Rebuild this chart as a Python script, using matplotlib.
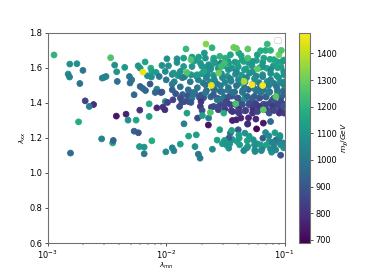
import numpy as np
import matplotlib
matplotlib.use('Agg')
import matplotlib.pyplot as plt

# points in the dense corner, mostly covered by the ones drawn over them
fill_log_mn = [
    -1.680, -1.621, -1.560, -1.512, -1.445, -1.392, -1.325, -1.276, -1.208, -1.150, -1.097, -1.030,
    -1.652, -1.600, -1.534, -1.483, -1.415, -1.364, -1.296, -1.240, -1.186, -1.118, -1.068, -1.006,
    -1.690, -1.630, -1.572, -1.503, -1.452, -1.385, -1.335, -1.268, -1.216, -1.149, -1.089, -1.037,
    -1.660, -1.590, -1.541, -1.475, -1.422, -1.355, -1.305, -1.238, -1.178, -1.127, -1.060, -1.010,
    -1.684, -1.624, -1.565, -1.511, -1.446, -1.393, -1.328, -1.274, -1.209, -1.157, -1.090, -1.031,
    -1.540, -1.482, -1.416, -1.363, -1.298, -1.245, -1.179, -1.120, -1.067, -1.003,
    -1.560, -1.505, -1.452, -1.387, -1.334, -1.268, -1.215, -1.150, -1.096, -1.035,
    -1.480, -1.420, -1.358, -1.303, -1.239, -1.185, -1.124, -1.062, -1.008,
    -1.950, -1.900, -1.846, -1.790, -1.744, -1.700, -1.920, -1.862, -1.806, -1.758, -1.705,
    -1.880, -1.820, -1.770, -1.720, -1.950, -1.760, -1.700, -1.650, -1.600,
    -1.130, -1.062, -1.012, -1.250, -1.190, -1.110, -1.040, -1.300, -1.380, -1.440,
]
fill_lam_xx = [
    1.600, 1.604, 1.596, 1.611, 1.598, 1.606, 1.594, 1.612, 1.601, 1.597, 1.610, 1.603,
    1.561, 1.556, 1.566, 1.552, 1.563, 1.558, 1.569, 1.553, 1.560, 1.567, 1.555, 1.561,
    1.514, 1.520, 1.509, 1.516, 1.523, 1.511, 1.518, 1.507, 1.515, 1.521, 1.510, 1.517,
    1.469, 1.474, 1.465, 1.472, 1.462, 1.470, 1.476, 1.466, 1.473, 1.463, 1.471, 1.468,
    1.429, 1.434, 1.425, 1.431, 1.438, 1.426, 1.433, 1.423, 1.430, 1.436, 1.427, 1.432,
    1.394, 1.398, 1.391, 1.400, 1.388, 1.396, 1.392, 1.401, 1.395, 1.390,
    1.360, 1.364, 1.356, 1.366, 1.354, 1.362, 1.368, 1.358, 1.365, 1.361,
    1.640, 1.632, 1.645, 1.628, 1.642, 1.630, 1.648, 1.634, 1.644,
    1.562, 1.555, 1.548, 1.560, 1.552, 1.566, 1.452, 1.447, 1.462, 1.455, 1.444,
    1.427, 1.439, 1.448, 1.431, 1.506, 1.640, 1.610, 1.592, 1.640,
    1.180, 1.192, 1.171, 1.122, 1.140, 1.118, 1.205, 1.210, 1.160, 1.190,
]
fill_m_chi = [
    1110, 1130, 1090, 1140, 1100, 1120, 1150, 1110, 1130, 1160, 1120, 1140,
    1070, 1100, 1060, 1110, 1080, 1120, 1090, 1060, 1110, 1080, 1120, 1090,
    1020, 1060, 1000, 1050, 1030, 1070, 1010, 1060, 1040, 1080, 1030, 1060,
    960, 1000, 940, 1010, 970, 1020, 950, 990, 1010, 960, 1000, 970,
    900, 930, 880, 950, 910, 960, 890, 940, 920, 950, 900, 930,
    860, 890, 850, 900, 870, 840, 880, 860, 900, 870,
    830, 810, 860, 800, 840, 790, 850, 820, 860, 810,
    1130, 1110, 1150, 1120, 1140, 1100, 1160, 1130, 1150,
    1060, 1090, 1040, 1100, 1070, 1110, 900, 940, 970, 920, 880,
    870, 900, 930, 890, 1000, 1120, 1100, 1110, 1140,
    1100, 1070, 1060, 1080, 1040, 1090, 1100, 1120, 1130, 1110,
]

# log10(lambda_mn)
log_mn = [
    -2.947, -2.814, -2.754, -2.703, -2.828, -2.816, -2.729, -2.684, -2.613, -2.650,
    -2.740, -2.469, -2.435, -2.418, -2.350, -2.540, -2.525, -2.508, -2.413, -2.311,
    -2.291, -2.305, -2.220, -2.197, -2.175, -2.271, -2.136, -2.237, -2.220, -2.178,
    -2.130, -2.121, -2.158, -2.125, -2.085, -2.059, -2.079, -2.093, -2.045, -2.144,
    -2.079, -2.223, -2.339, -2.421, -2.322, -2.254, -2.144, -2.808, -2.545, -2.452,
    -2.447, -2.271, -2.235, -2.121, -2.226, -2.186, -2.186, -2.003, -1.949, -1.935,
    -1.881, -1.850, -1.644, -1.811, -1.746, -1.757, -1.729, -1.714, -1.610, -1.570,
    -1.548, -1.472, -1.458, -1.392, -1.447, -1.387, -1.336, -1.508, -1.525, -1.492,
    -1.472, -1.500, -1.464, -1.401, -1.384, -1.316, -1.265, -1.345, -1.322, -1.311,
    -1.254, -1.231, -1.203, -1.252, -1.197, -1.153, -1.119, -1.076, -1.133, -1.161,
    -1.184, -1.237, -1.180, -1.119, -1.314, -1.082, -1.040, -1.076, -1.104, -1.048,
    -1.091, -1.034, -1.008, -1.034, -2.036, -2.008, -1.943, -1.989, -2.028, -2.011,
    -1.867, -1.887, -1.811, -1.847, -1.782, -1.791, -1.825, -1.706, -1.712, -1.697,
    -1.735, -1.695, -1.642, -1.599, -1.619, -1.557, -1.514, -1.570, -1.528, -1.769,
    -1.441, -1.407, -1.370, -1.305, -1.311, -1.243, -1.342, -1.398, -1.492, -1.455,
    -1.511, -1.441, -1.384, -1.328, -1.257, -1.214, -1.158, -1.102, -1.045, -1.003,
    -1.271, -1.229, -1.130, -1.088, -1.356, -1.299, -1.398, -1.469, -1.214, -1.158,
    -1.102, -1.031, -1.008, -1.059, -1.257, -1.314, -1.356, -1.441, -1.201, -1.130,
    -1.059, -1.003, -1.669, -1.602, -1.525, -1.949, -1.881, -1.814, -1.737, -1.669,
    -1.602, -1.542, -1.475, -1.407, -1.339, -1.254, -1.203, -1.136, -1.068, -1.008,
    -2.000, -1.932, -1.864, -1.797, -1.729, -1.661, -1.593, -1.525, -1.458, -1.390,
    -1.322, -1.254, -1.186, -1.119, -1.051, -1.000, -1.627, -1.475, -1.407, -1.339,
    -1.271, -1.186, -1.119, -1.059, -1.008, -1.994, -1.909, -1.853, -1.782, -1.726,
    -1.678, -1.669, -1.599, -1.548, -1.500, -1.458, -1.387, -1.367, -1.231, -2.036,
    -1.981, -1.909, -1.853, -1.782, -1.712, -1.642, -1.585, -1.536, -1.472, -1.401,
    -1.345, -1.274, -1.176, -1.091, -1.019, -2.008, -1.938, -1.881, -1.740, -1.684,
    -1.203, -1.161, -1.119, -1.833, -1.613, -1.147, -1.664, -1.430, -1.407, -1.311,
    -1.048, -1.028, -1.311, -1.791, -1.825, -1.508, -1.536, -1.557, -1.229, -1.627,
    -1.180, -1.413, -1.074, -1.342, -1.619, -1.275, -1.186, -2.197,
]
lam_xx = [
    1.673, 1.621, 1.623, 1.585, 1.564, 1.547, 1.510, 1.411, 1.390, 1.379,
    1.291, 1.657, 1.615, 1.577, 1.602, 1.541, 1.545, 1.550, 1.522, 1.550,
    1.531, 1.513, 1.493, 1.482, 1.470, 1.446, 1.507, 1.611, 1.598, 1.633,
    1.598, 1.579, 1.554, 1.547, 1.573, 1.550, 1.478, 1.459, 1.459, 1.394,
    1.371, 1.358, 1.335, 1.324, 1.301, 1.301, 1.322, 1.113, 1.194, 1.171,
    1.185, 1.238, 1.229, 1.183, 1.150, 1.147, 1.109, 1.120, 1.143, 1.126,
    1.164, 1.280, 1.273, 1.210, 1.217, 1.150, 1.107, 1.084, 1.135, 1.187,
    1.246, 1.198, 1.227, 1.246, 1.242, 1.217, 1.227, 1.185, 1.166, 1.160,
    1.141, 1.173, 1.166, 1.179, 1.198, 1.183, 1.189, 1.127, 1.141, 1.150,
    1.160, 1.166, 1.160, 1.131, 1.127, 1.160, 1.135, 1.131, 1.211, 1.230,
    1.198, 1.251, 1.284, 1.293, 1.278, 1.229, 1.213, 1.185, 1.173, 1.179,
    1.160, 1.160, 1.143, 1.101, 1.461, 1.407, 1.417, 1.402, 1.375, 1.360,
    1.404, 1.379, 1.407, 1.407, 1.427, 1.402, 1.341, 1.407, 1.379, 1.356,
    1.313, 1.327, 1.313, 1.379, 1.375, 1.379, 1.341, 1.417, 1.421, 1.459,
    1.299, 1.303, 1.313, 1.314, 1.280, 1.307, 1.421, 1.350, 1.407, 1.389,
    1.389, 1.350, 1.341, 1.356, 1.389, 1.379, 1.389, 1.379, 1.341, 1.341,
    1.341, 1.350, 1.341, 1.356, 1.389, 1.398, 1.427, 1.436, 1.427, 1.433,
    1.417, 1.407, 1.379, 1.389, 1.436, 1.436, 1.459, 1.459, 1.459, 1.459,
    1.459, 1.446, 1.457, 1.446, 1.463, 1.474, 1.491, 1.474, 1.486, 1.503,
    1.480, 1.497, 1.486, 1.497, 1.486, 1.480, 1.491, 1.497, 1.491, 1.503,
    1.531, 1.520, 1.543, 1.520, 1.531, 1.543, 1.531, 1.543, 1.537, 1.531,
    1.543, 1.537, 1.549, 1.531, 1.543, 1.520, 1.589, 1.589, 1.577, 1.589,
    1.577, 1.606, 1.589, 1.600, 1.577, 1.651, 1.651, 1.655, 1.661, 1.661,
    1.684, 1.655, 1.655, 1.665, 1.655, 1.674, 1.684, 1.669, 1.674, 1.613,
    1.611, 1.630, 1.607, 1.607, 1.627, 1.617, 1.627, 1.627, 1.627, 1.627,
    1.636, 1.636, 1.655, 1.646, 1.636, 1.579, 1.570, 1.579, 1.560, 1.579,
    1.697, 1.699, 1.699, 1.707, 1.714, 1.735, 1.735, 1.716, 1.710, 1.707,
    1.674, 1.699, 1.655, 1.646, 1.573, 1.627, 1.607, 1.570, 1.593, 1.345,
    1.360, 1.394, 1.436, 1.522, 1.499, 1.503, 1.499, 1.575,
]
m_chi = [
    1200, 1080, 1090, 1000, 1060, 1040, 980, 840, 790, 1020,
    1170, 1260, 1080, 1100, 1110, 1040, 1040, 1040, 980, 1000,
    1000, 980, 930, 950, 950, 950, 900, 1100, 1100, 1150,
    1170, 1130, 1080, 1080, 1120, 1000, 1050, 950, 880, 1160,
    780, 800, 760, 730, 1080, 1150, 1130, 960, 1040, 1150,
    940, 930, 900, 1170, 1120, 1100, 1000, 1060, 1030, 1040,
    1130, 1020, 720, 1150, 1130, 1080, 1000, 1010, 1070, 1140,
    1130, 920, 950, 900, 1130, 1130, 1100, 1130, 1120, 1110,
    1090, 1100, 1100, 1130, 1120, 1130, 1100, 1050, 1060, 1100,
    1090, 1080, 1120, 1070, 1060, 1140, 1060, 1050, 1060, 1060,
    920, 700, 740, 960, 1060, 1120, 1090, 980, 1030, 1030,
    1040, 1080, 1090, 880, 900, 1080, 840, 840, 800, 790,
    860, 880, 900, 880, 1000, 900, 1130, 800, 820, 870,
    850, 1130, 1040, 880, 850, 860, 1170, 1000, 1000, 1000,
    760, 760, 780, 780, 780, 770, 1080, 880, 850, 840,
    860, 800, 820, 840, 830, 820, 850, 820, 800, 820,
    800, 850, 880, 860, 880, 870, 880, 900, 900, 930,
    900, 860, 900, 850, 920, 950, 1000, 980, 1000, 1020,
    1000, 950, 1000, 920, 1000, 920, 980, 960, 1000, 990,
    960, 1020, 1000, 980, 1000, 1010, 980, 1030, 1000, 1040,
    1000, 1020, 1020, 1000, 1040, 1040, 1060, 1060, 1040, 1060,
    1040, 1070, 1060, 1040, 1090, 1050, 1090, 1090, 1050, 1120,
    1080, 1100, 1070, 1140, 1100, 1090, 1100, 1130, 1120, 1130,
    1110, 1100, 1150, 1200, 1180, 1150, 1160, 1150, 1130, 1080,
    1080, 1080, 1120, 1100, 1110, 1080, 1120, 1000, 1120, 1130,
    1140, 1100, 1150, 1160, 1130, 1060, 1100, 1080, 1120, 1150,
    1180, 1180, 1200, 1220, 1200, 1220, 1330, 1300, 1290, 1280,
    1300, 1260, 1250, 1260, 1260, 1240, 1230, 1300, 1280, 1260,
    1280, 1250, 1280, 1380, 1450, 1470, 1470, 1450,
]

x = 10.0 ** np.array(fill_log_mn + log_mn)
y = fill_lam_xx + lam_xx
c = fill_m_chi + m_chi

fig, ax = plt.subplots(figsize=(6.4, 4.574), dpi=59.7)
sc = ax.scatter(x, y, c=c, cmap='viridis', s=50, vmin=688, vmax=1478)
ax.set_xscale('log')
ax.set_xlim(1e-3, 1e-1)
ax.set_ylim(0.6, 1.8)
ax.set_xlabel(r'$\lambda_{mn}$', fontsize=9, labelpad=-1)
ax.set_ylabel(r'$\lambda_{xx}$', fontsize=9, labelpad=1)
ax.legend(handles=[])

cb = plt.colorbar(sc, ax=ax)
cb.set_label(r'$m_\chi/GeV$', fontsize=9)
cb.set_ticks([700, 800, 900, 1000, 1100, 1200, 1300, 1400])

for s in ax.spines.values():
    s.set_linewidth(1.3)
    s.set_color('#707070')
cb.outline.set_linewidth(1.3)
cb.outline.set_edgecolor('#707070')

fig.savefig('out.png', dpi=59.7)
